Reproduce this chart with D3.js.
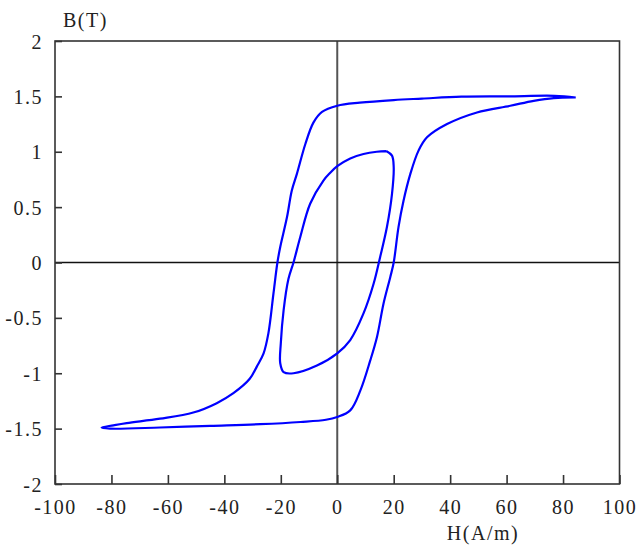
<!DOCTYPE html>
<html>
<head>
<meta charset="utf-8">
<script src="https://cdn.jsdelivr.net/npm/d3@7"></script>
<style>
html,body{margin:0;padding:0;background:#fff;}
svg text{font-family:"Liberation Serif","Times New Roman",serif;font-size:20px;fill:#222;letter-spacing:1.5px;}
</style>
</head>
<body>
<svg id="chart" width="641" height="546"></svg>
<script>
// ---- data ----
const xTicks = [-100, -80, -60, -40, -20, 0, 20, 40, 60, 80, 100];
const yTicks = [-2, -1.5, -1, -0.5, 0, 0.5, 1, 1.5, 2];
const xLabel = "H(A/m)";
const yLabel = "B(T)";

// major loop: descending branch then ascending branch
const majorH = [84.5, 77, 60, 44, 30, 20, 8, 0, -5.4, -8.4, -11.3, -14.3, -16.1, -17.8, -20.2, -21.2, -22.6, -24.4, -26.1, -28.5, -31, -36.8, -42.7, -51, -62.8, -74.6, -79.3, -83.5,
  -80.5, -62.8, -45, -27.3, -13, -4, 0, 4.6, 8.2, 11.7, 14.1, 16.4, 18.8, 20, 21.7, 23.5, 25.9, 28.8, 31.8, 38.9, 49.5, 61.3, 69.6, 76.7, 84.5];
const majorB = [1.49, 1.505, 1.50, 1.497, 1.48, 1.467, 1.443, 1.415, 1.36, 1.265, 1.07, 0.80, 0.65, 0.41, 0.14, 0.0, -0.28, -0.64, -0.82, -0.94, -1.05, -1.18, -1.27, -1.355, -1.41, -1.45, -1.47, -1.49,
  -1.50, -1.49, -1.475, -1.46, -1.44, -1.42, -1.395, -1.335, -1.155, -0.884, -0.67, -0.37, -0.13, 0.0, 0.32, 0.56, 0.80, 1.01, 1.13, 1.25, 1.355, 1.415, 1.46, 1.485, 1.49];

// minor loop (closed)
const minorH = [17.5, 14, 9.3, 4.6, 0, -2.5, -4.9, -9.6, -13.1, -15.5, -17.3, -19, -20, -20.2, -19, -15.5, -7.2, 0, 4.6, 9.3, 12.9, 15.2, 17.6, 19.4, 20, 19.4, 17.5];
const minorB = [1.005, 1.0, 0.98, 0.94, 0.87, 0.81, 0.74, 0.53, 0.23, 0.0, -0.15, -0.43, -0.73, -0.91, -0.99, -1.0, -0.93, -0.82, -0.70, -0.46, -0.19, 0.05, 0.32, 0.62, 0.86, 0.965, 1.005];

// ---- chart ----
const svg = d3.select("#chart");
const L = 55, R = 619.5, T = 41, B = 484;
const x = d3.scaleLinear().domain([-100, 100]).range([L, R]);
const y = d3.scaleLinear().domain([-2, 2]).range([B, T]);

// zero lines
svg.append("line").attr("x1", x(0)).attr("x2", x(0)).attr("y1", T).attr("y2", B)
  .attr("stroke", "#555").attr("stroke-width", 2);
svg.append("line").attr("x1", L).attr("x2", R).attr("y1", y(0)).attr("y2", y(0))
  .attr("stroke", "#111").attr("stroke-width", 1.5);

// frame
svg.append("rect").attr("x", L).attr("y", T).attr("width", R - L).attr("height", B - T)
  .attr("fill", "none").attr("stroke", "#333").attr("stroke-width", 1.6);

// axes
const xAxis = d3.axisBottom(x).tickValues(xTicks).tickSize(-9).tickPadding(22).tickFormat(d => d);
const gx = svg.append("g").attr("transform", `translate(0,${B})`).call(xAxis);
gx.select(".domain").remove();
gx.selectAll(".tick line").attr("stroke", "#333").attr("stroke-width", 1.6);
gx.selectAll(".tick text").attr("dy", "0").attr("y", 30).style("font-size", "20px");

const yAxis = d3.axisLeft(y).tickValues(yTicks).tickSize(-7).tickPadding(12).tickFormat(d => d);
const gy = svg.append("g").attr("transform", `translate(${L},0)`).call(yAxis);
gy.select(".domain").remove();
gy.selectAll(".tick line").attr("stroke", "#333").attr("stroke-width", 1.6);
gy.selectAll(".tick text").style("font-size", "20px").attr("dy", "0.35em");

// labels
svg.append("text").attr("x", 483).attr("y", 540).attr("text-anchor", "middle").text(xLabel);
svg.append("text").attr("x", 63).attr("y", 27).text(yLabel);

// curves
const line = d3.line().x(d => x(d[0])).y(d => y(d[1])).curve(d3.curveCatmullRom.alpha(0.5));
const major = majorH.map((h, i) => [h, majorB[i]]);
const minor = minorH.map((h, i) => [h, minorB[i]]);
svg.append("path").datum(major).attr("d", line).attr("fill", "none")
  .attr("stroke", "#0000ff").attr("stroke-width", 2.2).attr("stroke-linejoin", "round");
svg.append("path").datum(minor).attr("d", line).attr("fill", "none")
  .attr("stroke", "#0000ff").attr("stroke-width", 2.2).attr("stroke-linejoin", "round");
</script>
</body>
</html>
